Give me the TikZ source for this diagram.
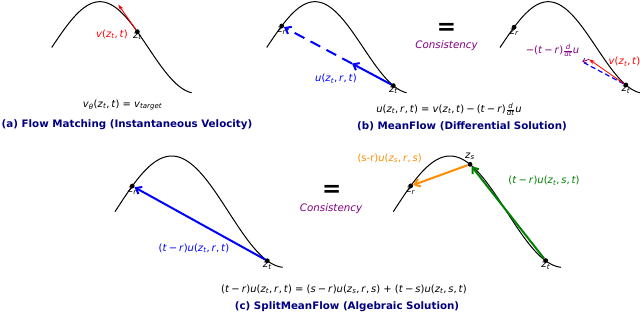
\documentclass[tikz,border=0pt]{standalone}
\usepackage{fontspec}
\usepackage{amsmath}
\setmainfont{DejaVu Sans}
\usetikzlibrary{arrows.meta}
\definecolor{navyc}{RGB}{0,0,128}
\definecolor{purp}{RGB}{128,0,128}
\definecolor{orng}{RGB}{255,140,0}
\definecolor{grn}{RGB}{0,128,0}
\newcommand\mi[1]{\textit{#1}}
\newcommand\sbs[1]{\textsubscript{\itshape #1}}
\newcommand\zz[1]{\mi{z}\sbs{#1}}
\newcommand\cma{,\hspace{0.18em}}
\newcommand\mns{\hspace{0.2em}−\hspace{0.2em}}
\newcommand\ddt{$\frac{\text{\itshape d}}{\text{\itshape dt}}$}
\begin{document}
\begin{tikzpicture}[x=1pt,y=-1pt,
  curvline/.style={black, line width=1pt},
  ptdot/.style={circle, fill=black, inner sep=0pt, minimum size=4.8pt},
  zlab/.style={font=\fontsize{10}{12}\selectfont, inner sep=0pt},
  labtxt/.style={font=\fontsize{10}{12}\selectfont, inner sep=0pt},
  captxt/.style={font=\fontsize{10.3}{12}\selectfont\bfseries, text=navyc, inner sep=0pt},
  eqsign/.style={font=\fontsize{23}{25}\selectfont\bfseries, inner sep=0pt},
  constxt/.style={font=\fontsize{10.3}{12}\selectfont\itshape, text=purp, inner sep=0pt},
  barb/.style={-{Straight Barb[length=5pt,width=8pt]}},
  thinhead/.style={-{Stealth[length=6pt,width=4pt]}}
]
\useasboundingbox (0,0) rectangle (640,314);

% ---------- curves ----------
\draw[curvline] plot[domain=0:4.56,samples=90] ({51.7+30.7*\x},{47.5-45.8*sin(\x r)});
\draw[curvline] plot[domain=0:4.56,samples=90] ({266.7+30.7*\x},{47.5-45.8*sin(\x r)});
\draw[curvline] plot[domain=0:4.56,samples=90] ({500+30.7*\x},{47.5-45.8*sin(\x r)});
\draw[curvline] plot[domain=0:4.645,samples=90] ({115+36.1*\x},{211.7-55.7*sin(\x r)});
\draw[curvline] plot[domain=0:4.645,samples=90] ({393.3+36.1*\x},{211.7-55.7*sin(\x r)});

% ---------- panel (a) ----------
\node[ptdot] (azt) at (137.35,31.72) {};
\coordinate (avtip) at (118.3,4.6);
\draw[red, line width=0.9pt, thinhead] (azt) -- (avtip);
\node[zlab, anchor=north] (aztl) at (137.35,32.5) {\zz{t}};
\node[labtxt, text=red, anchor=east] (avl) at (128,34) {\mi{v}(\zz{t}\cma\mi{t})};
\node[labtxt] (aeq) at (122.5,105) {\mi{v}\sbs{θ}(\zz{t}\cma\mi{t}) = \mi{v}\sbs{target}};
\node[captxt] (acap) at (127,125) {(a) Flow Matching (Instantaneous Velocity)};

% ---------- panel (b) ----------
\node[ptdot] (bzr) at (281.71,25.98) {};
\node[ptdot] (bzt) at (393.34,85.62) {};
\coordinate (bmid) at (352.0,63.55);
\draw[blue, line width=2pt, barb] (bzt) -- (bmid);
\draw[blue, line width=2pt, dash pattern=on 11pt off 7pt, barb] (bmid) -- (bzr);
\node[zlab, anchor=north] (bzrl) at (281.71,27) {\zz{r}};
\node[zlab, anchor=north] (bztl) at (393.34,86.5) {\zz{t}};
\node[labtxt, text=blue] (bul) at (336,78.5) {\mi{u}(\zz{t}\cma\mi{r}\cma\mi{t})};
\node[labtxt] (beq) at (449,109.5) {\mi{u}(\zz{t}\cma\mi{r}\cma\mi{t}) = \mi{v}(\zz{t}\cma\mi{t})\mns(\mi{t}\mns\mi{r})\ddt\mi{u}};
\node[captxt] (bcap) at (462,126.5) {(b) MeanFlow (Differential Solution)};

\node[eqsign] (eq1) at (446.5,29) {=};
\node[constxt] (cons1) at (446.5,45.5) {Consistency};

% ---------- panel (b2) ----------
\node[ptdot] (czr) at (514.1,27.17) {};
\node[ptdot] (czt) at (625.87,84.98) {};
\coordinate (cvtip) at (589,59.3);
\coordinate (cutip) at (582.3,61.8);
\draw[blue, line width=1.2pt, dash pattern=on 5pt off 3pt] (czt) -- (cutip);
\draw[red, line width=0.8pt, thinhead] (czt) -- (cvtip);
\draw[purp, line width=0.8pt, -{Straight Barb[length=3pt,width=5pt]}] (cvtip) -- (cutip);
\node[zlab, anchor=north] (czrl) at (514.1,28.5) {\zz{r}};
\node[zlab, anchor=north] (cztl) at (625.87,86) {\zz{t}};
\node[labtxt, text=purp] (cdl) at (552.5,50.5) {−(\mi{t}\mns\mi{r})\ddt\mi{u}};
\node[labtxt, text=red] (cvl) at (624.5,61.5) {\mi{v}(\zz{t}\cma\mi{t})};

% ---------- panel (c) left ----------
\node[ptdot] (dzr) at (132.29,186.03) {};
\node[ptdot] (dzt) at (267.31,260.76) {};
\draw[blue, line width=2pt, barb] (dzt) -- (dzr);
\node[zlab, anchor=north] (dzrl) at (132.29,187.2) {\zz{r}};
\node[zlab, anchor=north] (dztl) at (267.31,262) {\zz{t}};
\node[labtxt, text=blue] (dul) at (194,248.3) {(\mi{t}\mns\mi{r})\mi{u}(\zz{t}\cma\mi{r}\cma\mi{t})};

\node[eqsign] (eq2) at (331.7,191) {=};
\node[constxt] (cons2) at (331,209) {Consistency};

% ---------- panel (c) right ----------
\node[ptdot] (ezr) at (410.7,185.88) {};
\node[ptdot] (ezs) at (470.01,164.34) {};
\node[ptdot] (ezt) at (545.71,260.56) {};
\draw[orng, line width=2pt, barb] (ezs) -- (ezr);
\draw[grn, line width=2pt, barb] (ezt) -- (ezs);
\node[zlab, anchor=north] (ezrl) at (410.7,187) {\zz{r}};
\node[zlab, anchor=south] (ezsl) at (470.01,160) {\zz{s}};
\node[zlab, anchor=north] (eztl) at (545.71,262) {\zz{t}};
\node[labtxt, text=orng] (eol) at (389.7,158.3) {(s-r)\mi{u}(\zz{s}\cma\mi{r}\cma\mi{s})};
\node[labtxt, text=grn] (egl) at (544,180.7) {(\mi{t}\mns\mi{r})\mi{u}(\zz{t}\cma\mi{s}\cma\mi{t})};

\node[labtxt] (ceq) at (344,289) {(\mi{t}\mns\mi{r})\mi{u}(\zz{t}\cma\mi{r}\cma\mi{t}) = (\mi{s}\mns\mi{r})\mi{u}(\zz{s}\cma\mi{r}\cma\mi{s}) + (\mi{t}\mns\mi{s})\mi{u}(\zz{t}\cma\mi{s}\cma\mi{t})};
\node[captxt] (ccap) at (347,307) {(c) SplitMeanFlow (Algebraic Solution)};
\end{tikzpicture}
\end{document}
